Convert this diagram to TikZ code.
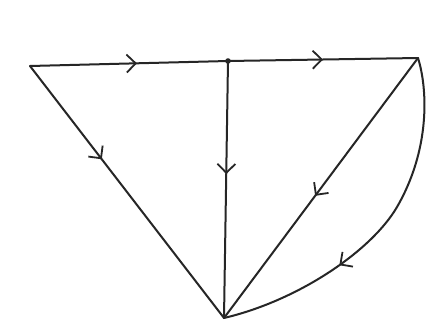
\documentclass[tikz,border=0pt]{standalone}
\usetikzlibrary{arrows.meta,decorations.markings}
\begin{document}
\begin{tikzpicture}[x=1pt,y=-1pt,
  edge/.style={draw=black!85,line width=2pt,line cap=round,line join=round},
  midarrow/.style={postaction={decorate},decoration={markings,
    mark=at position #1 with {\arrow[line width=1.8pt]{Straight Barb[length=9pt,width=18pt]}}}}]
\fill[white] (0,0) rectangle (442,327);
\useasboundingbox (0,0) rectangle (442,327);
\coordinate (A) at (30,66);
\coordinate (M) at (228,61);
\coordinate (B) at (418,58);
\coordinate (C) at (224,318);
\draw[edge,midarrow=0.54] (A) -- (M);
\draw[edge,midarrow=0.50] (M) -- (B);
\draw[edge,midarrow=0.37] (A) -- (C);
\draw[edge,midarrow=0.44] (M) -- (C);
\draw[edge,midarrow=0.53] (B) -- (C);
\draw[edge,midarrow=0.65] (B) .. controls (428,90) and (430,150) .. (397,207)
  .. controls (372,250) and (300,300) .. (C);
\fill[black!85] (M) circle (2.8pt);
\end{tikzpicture}
\end{document}
